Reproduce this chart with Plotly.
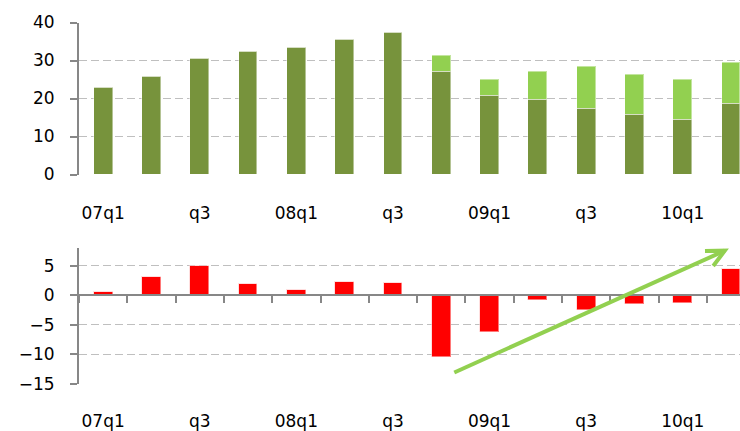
import plotly.graph_objects as go

# ---- data ----
quarters = ["07q1", "07q2", "07q3", "07q4", "08q1", "08q2", "08q3", "08q4",
            "09q1", "09q2", "09q3", "09q4", "10q1", "10q2"]
tick_labels = ["07q1", "", "q3", "", "08q1", "", "q3", "",
               "09q1", "", "q3", "", "10q1", ""]
dark_values = [22.8, 25.9, 30.6, 32.5, 33.3, 35.6, 37.5, 27.1,
               20.9, 19.7, 17.4, 15.9, 14.4, 18.6]
light_values = [0, 0, 0, 0, 0, 0, 0, 4.3,
                4.2, 7.5, 10.9, 10.5, 10.7, 10.8]
change_values = [0.55, 3.0, 4.9, 1.85, 0.85, 2.25, 2.0, -10.5,
                 -6.2, -0.8, -2.5, -1.5, -1.25, 4.45]
top_yticks = [0, 10, 20, 30, 40]
bottom_yticks = [-15, -10, -5, 0, 5]

DARK = "#77933c"
LIGHT = "#92d050"
RED = "#ff0000"
AXIS = "#878787"
GRID = "#bfbfbf"
FONT = dict(family="DejaVu Sans", size=17, color="#000000")

n = len(quarters)
xr = [-0.5, n - 0.815]
boundaries = [i - 0.5 for i in range(n + 1)]
label_vals = [q for q, t in zip(quarters, tick_labels) if t]
label_text = [t for t in tick_labels if t]

fig = go.Figure()
fig.add_trace(go.Bar(x=quarters, y=dark_values, marker=dict(color=DARK, line=dict(color="rgba(255,255,255,0.45)", width=1)),
                     width=0.39, xaxis="x", yaxis="y", showlegend=False))
fig.add_trace(go.Bar(x=quarters, y=light_values, marker=dict(color=LIGHT, line=dict(color="rgba(255,255,255,0.45)", width=1)),
                     width=0.39, xaxis="x", yaxis="y", showlegend=False))
fig.add_trace(go.Bar(x=quarters, y=change_values, marker=dict(color=RED, line=dict(color="rgba(255,200,200,0.6)", width=1)),
                     width=0.39, xaxis="x2", yaxis="y2", showlegend=False))

H = 431.0
def paper(py):
    return 1 - py / H

common_y = dict(showline=True, linecolor=AXIS, linewidth=2, ticks="outside", ticklen=7,
                tickcolor=AXIS, tickwidth=1.5, showgrid=True, gridcolor=GRID, griddash="8px,4px",
                zeroline=False, tickfont=FONT, ticklabelstandoff=12, automargin=False)

fig.update_layout(
    width=740, height=431,
    margin=dict(l=79, r=0, t=0, b=0, pad=0),
    paper_bgcolor="white", plot_bgcolor="white",
    barmode="stack", bargap=0,
    xaxis=dict(type="category", range=xr, domain=[0, 1], anchor="y",
               tickmode="array", tickvals=label_vals, ticktext=label_text,
               ticks="", showline=False, showgrid=False, tickfont=FONT,
               ticklabelstandoff=26, automargin=False),
    xaxis3=dict(type="linear", range=xr, overlaying="x", anchor="y",
                tickmode="array", tickvals=boundaries, showticklabels=False,
                ticks="outside", ticklen=8, tickcolor=AXIS, tickwidth=1.5, showline=True,
                linecolor=AXIS, linewidth=2, showgrid=False, zeroline=False,
                automargin=False),
    yaxis=dict(range=[0, 40], domain=[paper(174.5), paper(22.5)],
               tickmode="array", tickvals=top_yticks, **common_y),
    xaxis2=dict(type="category", range=xr, domain=[0, 1], anchor="y2",
                tickmode="array", tickvals=label_vals, ticktext=label_text,
                ticks="", showline=False, showgrid=False, tickfont=FONT,
                ticklabelstandoff=25, automargin=False),
    xaxis4=dict(type="linear", range=xr, overlaying="x2", anchor="free",
                position=paper(295.3),
                tickmode="array", tickvals=boundaries, showticklabels=False,
                ticks="outside", ticklen=7, tickcolor=AXIS, tickwidth=1.5, showline=True,
                linecolor=AXIS, linewidth=2, showgrid=False, zeroline=False,
                automargin=False),
    yaxis2=dict(range=[-15, 8], domain=[paper(383.7), paper(248.1)],
                tickmode="array", tickvals=bottom_yticks, **common_y),
)

# trend arrow
arrow_start = (7.27, -13.1)
arrow_tip = (12.87, 7.56)
arm_a = (12.46, 7.5)
arm_b = (12.63, 4.97)
fig.add_shape(type="line", xref="x4", yref="y2",
              x0=arrow_start[0], y0=arrow_start[1], x1=arrow_tip[0], y1=arrow_tip[1],
              line=dict(color=LIGHT, width=4))
fig.add_shape(type="path", xref="x4", yref="y2",
              path=f"M {arm_a[0]} {arm_a[1]} L {arrow_tip[0]} {arrow_tip[1]} L {arm_b[0]} {arm_b[1]}",
              line=dict(color=LIGHT, width=4))

fig.write_html("out.html", config={"displayModeBar": False},
               post_script="document.body.style.margin='0';")
